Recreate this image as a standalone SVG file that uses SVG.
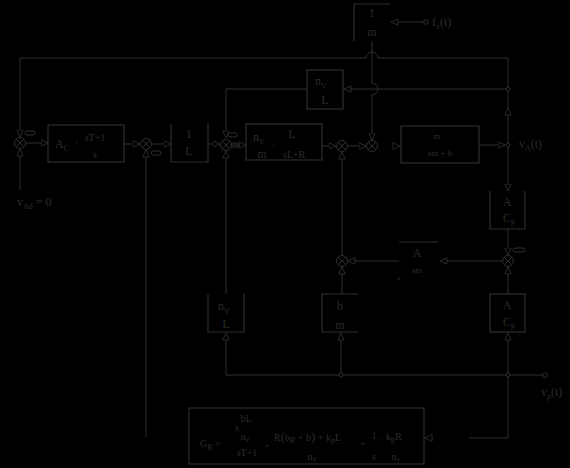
<svg xmlns="http://www.w3.org/2000/svg" width="570" height="468" viewBox="0 0 570 468">
<style>
.ln{fill:none;stroke:#2e2e2e;stroke-width:1}
.bx{fill:none;stroke:#2e2e2e;stroke-width:1.2}
.t{font-family:"Liberation Serif","Times New Roman",serif;font-size:12px;fill:#2c2c2c}
.s{font-size:9px}
.f{font-size:10px}
.sub{font-size:8px}
.dot{fill:#000;stroke:#2e2e2e;stroke-width:1}
.mn{fill:none;stroke:#2e2e2e;stroke-width:1}
</style>
<defs>
<marker id="ar" viewBox="0 0 8 8" refX="7.5" refY="4" markerWidth="8" markerHeight="8" markerUnits="userSpaceOnUse" orient="auto">
<path d="M0.5,0.8 L7.5,4 L0.5,7.2 Z" fill="#000" stroke="#2e2e2e" stroke-width="0.9"/>
</marker>
<g id="sum">
<circle r="5.5" fill="#000" stroke="#2e2e2e" stroke-width="1"/>
<path d="M-3.9,-3.9 L3.9,3.9 M-3.9,3.9 L3.9,-3.9" stroke="#2e2e2e" stroke-width="1"/>
</g>
</defs>
<rect x="0" y="0" width="570" height="468" fill="#000"/>

<g id="connectors">
<path class="ln" d="M508,89 V58 H378 A6,6 0 0 0 366,58 H20 V137" marker-end="url(#ar)"/>
<path class="ln" d="M372,41 V83 A6,6 0 0 1 372,95 V140" marker-end="url(#ar)"/>
<path class="ln" d="M508,89 H344" marker-end="url(#ar)"/>
<path class="ln" d="M307,89 H226 V138" marker-end="url(#ar)"/>
<path class="ln" d="M20,190 V149" marker-end="url(#ar)"/>
<path class="ln" d="M26,143 H48" marker-end="url(#ar)"/>
<path class="ln" d="M124,144 H140" marker-end="url(#ar)"/>
<path class="ln" d="M146,437 V150" marker-end="url(#ar)"/>
<path class="ln" d="M152,144 H171" marker-end="url(#ar)"/>
<path class="ln" d="M208,144 H220" marker-end="url(#ar)"/>
<path class="ln" d="M231,145 H246" marker-end="url(#ar)"/>
<path class="ln" d="M226,294 V151" marker-end="url(#ar)"/>
<path class="ln" d="M322,146 H336" marker-end="url(#ar)"/>
<path class="ln" d="M347,146 H366" marker-end="url(#ar)"/>
<path class="ln" d="M342,255 V152" marker-end="url(#ar)"/>
<path class="ln" d="M342,294 V267" marker-end="url(#ar)"/>
<path d="M393,142.5 L400,146 L393,149.5 Z" fill="#000" stroke="#2e2e2e" stroke-width="0.9"/>
<path class="ln" d="M479,145 H505" marker-end="url(#ar)"/>
<path class="ln" d="M508,145 V108" marker-end="url(#ar)"/>
<path class="ln" d="M508,108 V89"/>
<path class="ln" d="M508,145 V191" marker-end="url(#ar)"/>
<path class="ln" d="M508,229 V255" marker-end="url(#ar)"/>
<path class="ln" d="M502,261 H440" marker-end="url(#ar)"/>
<path class="ln" d="M399,261 H348" marker-end="url(#ar)"/>
<path class="ln" d="M508,294 V267" marker-end="url(#ar)"/>
<path class="ln" d="M508,375 V333" marker-end="url(#ar)"/>
<path class="ln" d="M226,375 H545"/>
<path class="ln" d="M508,375 V438 H469"/>
<path class="ln" d="M341,375 V333" marker-end="url(#ar)"/>
<path class="ln" d="M226,375 V333" marker-end="url(#ar)"/>
<path d="M432,434.5 L425,438 L432,441.5 Z" fill="#000" stroke="#2e2e2e" stroke-width="0.9"/>
<path class="ln" d="M424,22 H391" marker-end="url(#ar)"/>
<circle class="dot" cx="426" cy="22" r="2.3"/>
<circle class="dot" cx="545" cy="375" r="2.3"/>
<circle class="dot" cx="508" cy="89" r="2"/>
<circle class="dot" cx="508" cy="145" r="2"/>
<circle class="dot" cx="508" cy="375" r="2"/>
<circle class="dot" cx="341" cy="375" r="2"/>
</g>

<g id="sum1"><use href="#sum" x="20" y="143"/><rect class="mn" x="25" y="131" width="10" height="4" rx="2"/></g>
<g id="sum2"><use href="#sum" x="146" y="144"/><rect class="mn" x="151" y="151" width="10" height="4" rx="2"/></g>
<g id="sum3"><use href="#sum" x="226" y="145"/><rect class="mn" x="228" y="133" width="9" height="4" rx="2"/><rect class="mn" x="231" y="143" width="8" height="4" rx="2"/></g>
<g id="sum4"><use href="#sum" x="342" y="146"/></g>
<g id="sum5"><use href="#sum" x="372" y="146"/></g>
<g id="sum6"><use href="#sum" x="342" y="261"/></g>
<g id="sum7"><use href="#sum" x="508" y="261"/><rect class="mn" x="513" y="248" width="12" height="4" rx="2"/></g>

<g id="box-1m">
<path class="bx" d="M354,41 V4 H390"/>
<text class="t" x="372" y="17" text-anchor="middle">1</text>
<text class="t" x="372" y="36" text-anchor="middle">m</text>
</g>
<text class="t" x="432" y="26">f<tspan class="sub" dy="3">x</tspan><tspan dy="-3">(t)</tspan></text>

<g id="box-nvL-top">
<rect class="bx" x="307" y="70" width="36" height="39"/>
<text class="t" x="315" y="85">n<tspan class="sub" dy="4">V</tspan></text>
<text class="t" x="325" y="104" text-anchor="middle">L</text>
</g>

<g id="box-Ac">
<rect class="bx" x="48" y="125" width="76" height="37"/>
<text class="t" x="55" y="148">A<tspan class="sub" dy="3">C</tspan></text>
<text class="t" x="75" y="146">·</text>
<text class="t f" x="95" y="141" text-anchor="middle">sT+1</text>
<text class="t f" x="95" y="158" text-anchor="middle">s</text>
</g>

<g id="box-1L">
<path class="bx" d="M171,124 V162 H208 V124"/>
<text class="t" x="189" y="138" text-anchor="middle">1</text>
<text class="t" x="189" y="155" text-anchor="middle">L</text>
</g>

<g id="box-plant">
<rect class="bx" x="246" y="124" width="76" height="36"/>
<text class="t" x="253" y="141">n<tspan class="sub" dy="4">V</tspan></text>
<text class="t" x="262" y="158" text-anchor="middle">m</text>
<text class="t" x="274" y="149" text-anchor="middle">·</text>
<text class="t" x="292" y="138" text-anchor="middle">L</text>
<text class="t f" x="294" y="158" text-anchor="middle">sL+R</text>
</g>

<g id="box-msmb">
<rect class="bx" x="401" y="126" width="78" height="37"/>
<text class="t s" x="437" y="139" text-anchor="middle">m</text>
<text class="t s" x="440" y="156" text-anchor="middle">sm  +  b</text>
</g>
<text class="t" x="519" y="148">v<tspan class="sub" dy="3">A</tspan><tspan dy="-3">(t)</tspan></text>

<g id="box-ACp-top">
<path class="bx" d="M490,191 V229 H525 V191"/>
<text class="t" x="507" y="206" text-anchor="middle">A</text>
<text class="t" x="503" y="222">C<tspan class="sub" dy="2">p</tspan></text>
</g>

<g id="box-Asm">
<path class="bx" d="M399,242 H438"/>
<path class="ln" d="M399,277 V280"/>
<text class="t" x="417" y="257" text-anchor="middle">A</text>
<text class="t s" x="417" y="273" text-anchor="middle">sm</text>
</g>

<g id="box-bm">
<path class="bx" d="M358,294 H322 V332 H358"/>
<text class="t" x="340" y="310" text-anchor="middle">b</text>
<text class="t" x="340" y="329" text-anchor="middle">m</text>
</g>

<g id="box-ACp-bot">
<rect class="bx" x="490" y="294" width="35" height="38"/>
<text class="t" x="507" y="309" text-anchor="middle">A</text>
<text class="t" x="503" y="326">C<tspan class="sub" dy="2">p</tspan></text>
</g>

<g id="box-nvL-bot">
<path class="bx" d="M208,294 V332 H244 V294"/>
<text class="t" x="218" y="310">n<tspan class="sub" dy="4">V</tspan></text>
<text class="t" x="226" y="328" text-anchor="middle">L</text>
</g>

<text class="t" x="17" y="206">v<tspan class="sub" dy="3">Ad</tspan><tspan dy="-3"> = 0</tspan></text>
<text class="t" x="541" y="396">v<tspan class="sub" dy="3">p</tspan><tspan dy="-3">(t)</tspan></text>

<g id="box-GR">
<rect class="bx" x="189" y="408" width="235" height="56"/>
<text class="t f" x="200" y="447">G<tspan class="sub" dy="3">R</tspan><tspan dy="-3"> =</tspan></text>
<text class="t f" x="246" y="422" text-anchor="middle">bL</text>
<text class="t f" x="237" y="431" text-anchor="middle">s</text>
<text class="t f" x="245" y="440" text-anchor="middle">n<tspan class="sub" dy="2">v</tspan></text>
<text class="t f" x="247" y="456" text-anchor="middle">sT+1</text>
<text class="t s" x="267" y="448" text-anchor="middle">+</text>
<text class="t f" x="274" y="441">R<tspan font-size="13">(</tspan>b<tspan class="sub" dy="2">R</tspan><tspan dy="-2"> + b</tspan><tspan font-size="13">)</tspan> + k<tspan class="sub" dy="2">p</tspan><tspan dy="-2">L</tspan></text>
<text class="t f" x="312" y="460" text-anchor="middle">n<tspan class="sub" dy="2">v</tspan></text>
<text class="t s" x="363" y="446" text-anchor="middle">+</text>
<text class="t f" x="374" y="439" text-anchor="middle">1</text>
<text class="t f" x="374" y="460" text-anchor="middle">s</text>
<text class="t f" x="382" y="443" text-anchor="middle">·</text>
<text class="t f" x="386" y="440">k<tspan class="sub" dy="2">p</tspan><tspan dy="-2">R</tspan></text>
<text class="t f" x="396" y="460" text-anchor="middle">n<tspan class="sub" dy="2">v</tspan></text>
</g>
</svg>
